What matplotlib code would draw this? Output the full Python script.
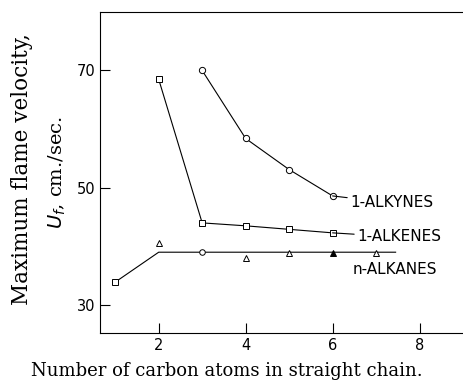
import matplotlib.pyplot as plt

# carbon atoms vs maximum flame velocity (cm/sec)
alkyne_n = [3, 4, 5, 6]
alkyne_u = [70.0, 58.4, 53.1, 48.6]

alkene_n = [2, 3, 4, 5, 6]
alkene_u = [68.5, 44.0, 43.5, 42.9, 42.3]

alkane_n = [1, 2, 3, 4, 5, 6, 7]
alkane_u = [33.9, 40.6, 39.0, 38.0, 38.8, 38.8, 38.8]
alkane_mk = ["s", "^", "o", "^", "^", "^", "^"]
alkane_fill = ["none", "none", "none", "none", "none", "k", "none"]

# smoothed curve through the alkanes
alkane_line_n = [1, 2, 7.45]
alkane_line_u = [33.9, 39.0, 39.0]

xticks = [2, 4, 6, 8]
yticks = [30, 50, 70]

fig = plt.figure(figsize=(4.63, 3.82), dpi=100)
ax = fig.add_axes([0.216, 0.128, 0.784, 0.841])

ax.plot(alkyne_n, alkyne_u, color="k", lw=0.8, marker="o", ms=4.5, mfc="white", mec="k", mew=0.7)
ax.plot(alkene_n, alkene_u, color="k", lw=0.8, marker="s", ms=4.5, mfc="white", mec="k", mew=0.7)
ax.plot(alkane_line_n, alkane_line_u, color="k", lw=0.8)
for n, u, m, f in zip(alkane_n, alkane_u, alkane_mk, alkane_fill):
	ax.plot(n, u, marker=m, ms=4, mfc=f if f != "none" else "white", mec="k", mew=0.7, ls="none")

lab = dict(fontsize=11, family="DejaVu Sans", va="center", ha="left")
ax.annotate("1-ALKYNES", xy=(alkyne_n[-1], alkyne_u[-1]), xytext=(6.4, 47.4), arrowprops=dict(arrowstyle="-", lw=0.8, shrinkA=0, shrinkB=0), **lab)
ax.annotate("1-ALKENES", xy=(alkene_n[-1], alkene_u[-1]), xytext=(6.56, 41.6), arrowprops=dict(arrowstyle="-", lw=0.8, shrinkA=0, shrinkB=0), **lab)
ax.text(6.45, 36.0, "n-ALKANES", **lab)

ax.set_xlim(0.65, 9.0)
ax.set_ylim(25.2, 80)
ax.set_xticks(xticks)
ax.set_yticks(yticks)
ax.tick_params(direction="in", length=7, width=0.8, labelsize=10.5)
ax.spines["right"].set_visible(False)
for s in ["left", "top", "bottom"]:
	ax.spines[s].set_linewidth(0.8)

fig.text(0.49, 0.03, "Number of carbon atoms in straight chain.", ha="center", va="center", family="DejaVu Serif", fontsize=13)
fig.text(0.047, 0.557, "Maximum flame velocity,", rotation=90, ha="center", va="center", family="DejaVu Serif", fontsize=15.5)
fig.text(0.123, 0.548, "$U_f$, cm./sec.", rotation=90, ha="center", va="center", family="DejaVu Serif", fontsize=14)

fig.savefig("out.png", dpi=100)
